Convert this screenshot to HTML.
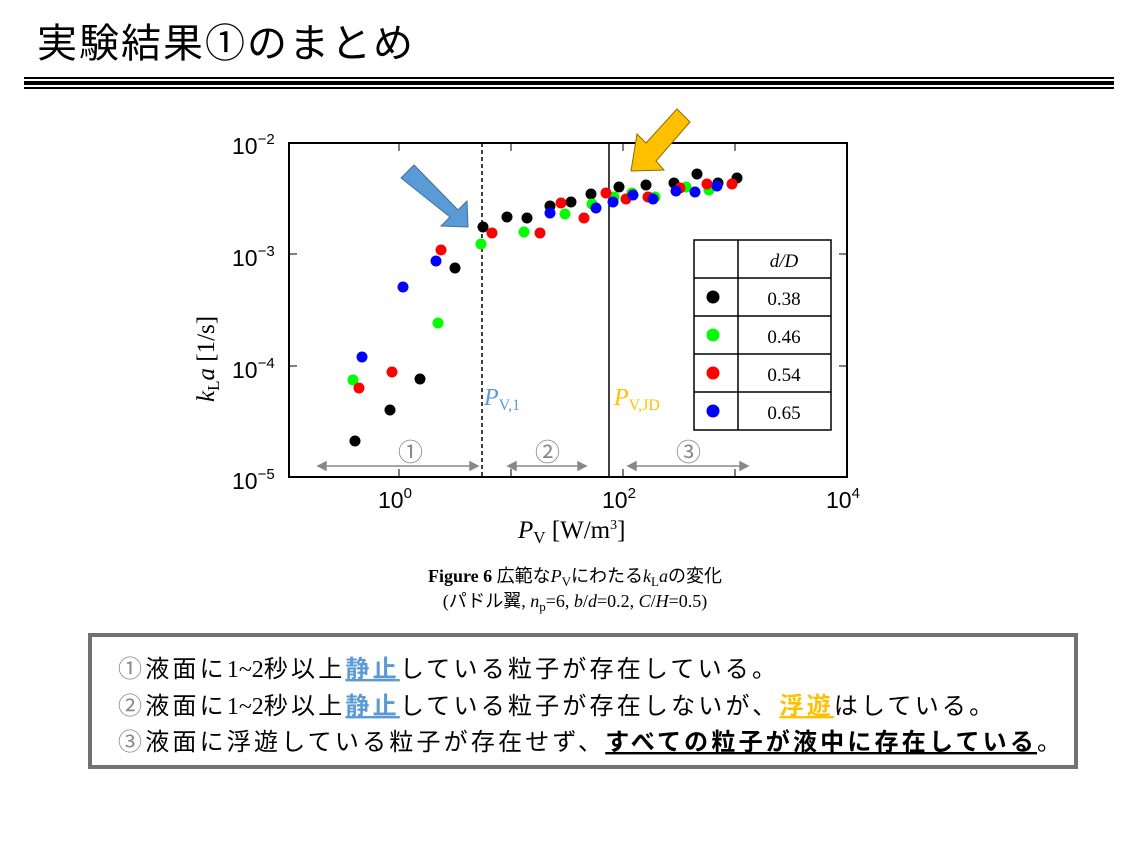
<!DOCTYPE html>
<html><head><meta charset="utf-8"><style>
html,body{margin:0;padding:0;background:#fff;}
svg{display:block;}
.j{font-family:"Liberation Sans","Noto Sans CJK JP",sans-serif;}
.s{font-family:"Liberation Serif","Noto Sans CJK JP",serif;}
</style></head><body>
<svg width="1132" height="842" xmlns="http://www.w3.org/2000/svg">
<text x="37" y="57" class="j" font-size="40" letter-spacing="2" fill="#000">実験結果①のまとめ</text>
<rect x="24" y="77" width="1090" height="2" fill="#000"/>
<rect x="24" y="81" width="1090" height="4" fill="#000"/>
<rect x="24" y="87" width="1090" height="2" fill="#000"/>

<rect x="289" y="143" width="558" height="334" fill="none" stroke="#000" stroke-width="2"/>
<g stroke="#000" stroke-width="1">
<line x1="399" y1="477" x2="399" y2="469"/><line x1="511" y1="477" x2="511" y2="469"/><line x1="623" y1="477" x2="623" y2="469"/><line x1="735" y1="477" x2="735" y2="469"/>
<line x1="399" y1="143" x2="399" y2="151"/><line x1="511" y1="143" x2="511" y2="151"/><line x1="623" y1="143" x2="623" y2="151"/><line x1="735" y1="143" x2="735" y2="151"/>
<line x1="289" y1="254" x2="297" y2="254"/><line x1="289" y1="366" x2="297" y2="366"/>
<line x1="847" y1="254" x2="839" y2="254"/><line x1="847" y1="366" x2="839" y2="366"/>
</g>
<line x1="482" y1="143" x2="482" y2="477" stroke="#000" stroke-width="1.5" stroke-dasharray="4,3"/>
<line x1="609" y1="143" x2="609" y2="477" stroke="#000" stroke-width="1.5"/>

<g class="j" font-size="23" fill="#000">
<text x="232" y="154">10<tspan font-size="15" dy="-10">−2</tspan></text>
<text x="232" y="266">10<tspan font-size="15" dy="-10">−3</tspan></text>
<text x="232" y="378">10<tspan font-size="15" dy="-10">−4</tspan></text>
<text x="232" y="489">10<tspan font-size="15" dy="-10">−5</tspan></text>
<text x="378" y="508">10<tspan font-size="15" dy="-10">0</tspan></text>
<text x="602" y="508">10<tspan font-size="15" dy="-10">2</tspan></text>
<text x="826" y="508">10<tspan font-size="15" dy="-10">4</tspan></text>
</g>
<text class="s" font-size="25" transform="translate(214,402) rotate(-90)"><tspan font-style="italic">k</tspan><tspan font-size="17" dy="5">L</tspan><tspan font-style="italic" dy="-5">a</tspan> [1/s]</text>
<text x="518" y="538" class="s" font-size="25"><tspan font-style="italic">P</tspan><tspan font-size="17" dy="5">V</tspan><tspan dy="-5"> [W/m</tspan><tspan font-size="14" dy="-9">3</tspan><tspan dy="9">]</tspan></text>

<polygon points="401,178 414,165 458,210 467,201 468,227 441,226 450,217" fill="#5b9bd5" stroke="#41719c" stroke-width="1"/>
<polygon points="690,122 677,109 646,143 637,134 631,171 664,170 656,161" fill="#ffc000" stroke="#8a6d00" stroke-width="1"/>

<g class="j" font-size="25" fill="#888">
<text x="398" y="461">①</text><text x="535" y="461">②</text><text x="676" y="461">③</text>
</g>
<g stroke="#888" stroke-width="1.5" fill="#888">
<line x1="322" y1="466" x2="474" y2="466"/><polygon points="318,466 326,462 326,470"/><polygon points="478,466 470,462 470,470"/>
<line x1="512" y1="466" x2="582" y2="466"/><polygon points="508,466 516,462 516,470"/><polygon points="586,466 578,462 578,470"/>
<line x1="632" y1="466" x2="744" y2="466"/><polygon points="628,466 636,462 636,470"/><polygon points="748,466 740,462 740,470"/>
</g>
<text x="484" y="405" class="s" font-size="24" fill="#5b9bd5"><tspan font-style="italic">P</tspan><tspan font-size="16" dy="5">V,1</tspan></text>
<text x="614" y="405" class="s" font-size="24" fill="#ffc000"><tspan font-style="italic">P</tspan><tspan font-size="16" dy="5">V,JD</tspan></text>

<g fill="#000">
<circle cx="355" cy="441" r="5.5"/><circle cx="390" cy="410" r="5.5"/><circle cx="420" cy="379" r="5.5"/><circle cx="455" cy="268" r="5.5"/><circle cx="483" cy="227" r="5.5"/><circle cx="507" cy="217" r="5.5"/><circle cx="527" cy="218" r="5.5"/><circle cx="550" cy="206" r="5.5"/><circle cx="571" cy="202" r="5.5"/><circle cx="591" cy="194" r="5.5"/><circle cx="619" cy="187" r="5.5"/><circle cx="646" cy="185" r="5.5"/><circle cx="674" cy="183" r="5.5"/><circle cx="697" cy="174" r="5.5"/><circle cx="718" cy="183" r="5.5"/><circle cx="737" cy="178" r="5.5"/>
</g>
<g fill="#00ff00">
<circle cx="353" cy="380" r="5.5"/><circle cx="438" cy="323" r="5.5"/><circle cx="481" cy="244" r="5.5"/><circle cx="524" cy="232" r="5.5"/><circle cx="565" cy="214" r="5.5"/><circle cx="592" cy="204" r="5.5"/><circle cx="614" cy="197" r="5.5"/><circle cx="632" cy="193" r="5.5"/><circle cx="655" cy="197" r="5.5"/><circle cx="686" cy="187" r="5.5"/><circle cx="709" cy="190" r="5.5"/>
</g>
<g fill="#ff0000">
<circle cx="359" cy="388" r="5.5"/><circle cx="392" cy="372" r="5.5"/><circle cx="441" cy="250" r="5.5"/><circle cx="492" cy="233" r="5.5"/><circle cx="540" cy="233" r="5.5"/><circle cx="561" cy="203" r="5.5"/><circle cx="584" cy="218" r="5.5"/><circle cx="606" cy="193" r="5.5"/><circle cx="626" cy="199" r="5.5"/><circle cx="648" cy="197" r="5.5"/><circle cx="680" cy="188" r="5.5"/><circle cx="707" cy="184" r="5.5"/><circle cx="732" cy="184" r="5.5"/>
</g>
<g fill="#0000ff">
<circle cx="362" cy="357" r="5.5"/><circle cx="403" cy="287" r="5.5"/><circle cx="436" cy="261" r="5.5"/><circle cx="550" cy="213" r="5.5"/><circle cx="596" cy="208" r="5.5"/><circle cx="613" cy="202" r="5.5"/><circle cx="633" cy="195" r="5.5"/><circle cx="653" cy="199" r="5.5"/><circle cx="676" cy="191" r="5.5"/><circle cx="695" cy="192" r="5.5"/><circle cx="717" cy="186" r="5.5"/>
</g>

<g stroke="#000" stroke-width="1.5" fill="none">
<rect x="694" y="240" width="137" height="190" fill="#fff"/>
<line x1="738" y1="240" x2="738" y2="430"/>
<line x1="694" y1="278" x2="831" y2="278"/><line x1="694" y1="316" x2="831" y2="316"/><line x1="694" y1="354" x2="831" y2="354"/><line x1="694" y1="392" x2="831" y2="392"/>
</g>
<text x="784" y="267" class="s" font-size="19" font-style="italic" text-anchor="middle">d/D</text>
<g class="s" font-size="19" text-anchor="middle">
<text x="784" y="305">0.38</text><text x="784" y="343">0.46</text><text x="784" y="381">0.54</text><text x="784" y="419">0.65</text>
</g>
<circle cx="713" cy="297" r="6.5" fill="#000"/><circle cx="713" cy="335" r="6.5" fill="#00ff00"/><circle cx="713" cy="373" r="6.5" fill="#ff0000"/><circle cx="713" cy="411" r="6.5" fill="#0000ff"/>

<text x="575" y="582" class="s" font-size="18" text-anchor="middle"><tspan font-weight="bold">Figure 6</tspan> 広範な<tspan font-style="italic">P</tspan><tspan font-size="13" dy="4">V</tspan><tspan dy="-4">にわたる</tspan><tspan font-style="italic">k</tspan><tspan font-size="13" dy="4">L</tspan><tspan font-style="italic" dy="-4">a</tspan>の変化</text>
<text x="575" y="607" class="s" font-size="18" text-anchor="middle">(パドル翼, <tspan font-style="italic">n</tspan><tspan font-size="13" dy="4">p</tspan><tspan dy="-4">=6, </tspan><tspan font-style="italic">b</tspan>/<tspan font-style="italic">d</tspan>=0.2, <tspan font-style="italic">C</tspan>/<tspan font-style="italic">H</tspan>=0.5)</text>

<rect x="90" y="635" width="986" height="132" fill="#fff" stroke="#767171" stroke-width="4"/>
<g class="j" font-size="24" letter-spacing="3.2" fill="#000">
<text x="118" y="677"><tspan fill="#888">①</tspan>液面に<tspan class="s" letter-spacing="0">1~2</tspan>秒以上<tspan fill="#5b9bd5" font-weight="bold" text-decoration="underline">静止</tspan>している粒子が存在している。</text>
<text x="118" y="714"><tspan fill="#888">②</tspan>液面に<tspan class="s" letter-spacing="0">1~2</tspan>秒以上<tspan fill="#5b9bd5" font-weight="bold" text-decoration="underline">静止</tspan>している粒子が存在しないが、<tspan fill="#ffc000" font-weight="bold" text-decoration="underline">浮遊</tspan>はしている。</text>
<text x="118" y="750"><tspan fill="#888">③</tspan>液面に浮遊している粒子が存在せず、<tspan font-weight="bold" text-decoration="underline">すべての粒子が液中に存在している</tspan>。</text>
</g>
</svg>
</body></html>
